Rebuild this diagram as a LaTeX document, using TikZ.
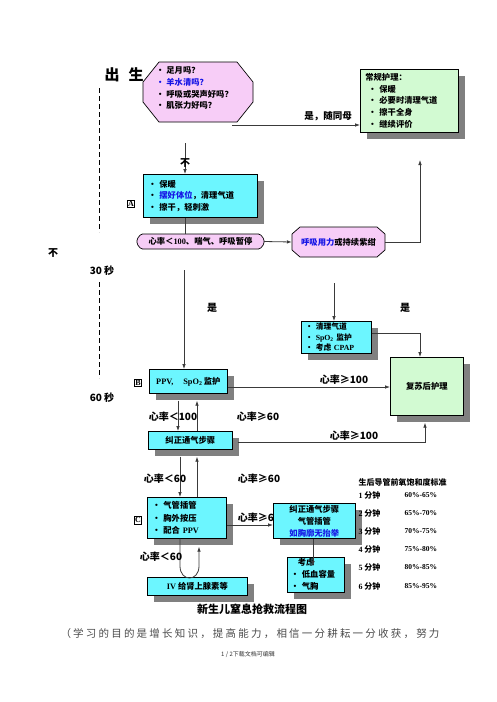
\documentclass[tikz,border=0pt]{standalone}
\usepackage{fontspec}
\setmainfont{Noto Sans CJK SC}
\newfontfamily\tms{Liberation Serif}
\newfontfamily\spaced{Noto Sans CJK SC}[LetterSpace=21]
\usetikzlibrary{shadows,arrows.meta}
\definecolor{pinkf}{HTML}{F7CDF7}
\definecolor{cyanf}{HTML}{6CF6FF}
\definecolor{greenf}{HTML}{D2FAD2}
\definecolor{shad}{HTML}{808080}
\definecolor{bluet}{HTML}{1515E6}
\definecolor{linec}{HTML}{3A3A3A}
\newcommand{\fs}{\bfseries\fontsize{8.3}{11.6}\selectfont}
\newcommand{\lb}{\bfseries\fontsize{10}{12}\selectfont}
\begin{document}
\begin{tikzpicture}[x=1pt,y=-1pt,
  sbox/.style={draw=black, line width=0.7pt, inner ysep=0pt, inner xsep=5pt, anchor=north west, font=\fs,
    drop shadow={shadow xshift=7pt, shadow yshift=-7pt, fill=shad, opacity=1}},
  conn/.style={draw=linec, line width=0.8pt},
  arr/.style={conn, -{Latex[length=5pt,width=3.6pt]}},
  lab/.style={font=\lb},
  tag/.style={draw=black, line width=0.7pt, inner xsep=0.8pt, inner ysep=1.2pt, font=\bfseries\fontsize{8}{8}\selectfont\tms}]
\fill[white] (0,0) rectangle (496,702);
\useasboundingbox (0,0) rectangle (496,702);

% left timeline
\node[font=\bfseries\fontsize{15}{15}\selectfont] (birth) at (124,75) {出\hspace{9pt}生};
\draw[dashed, dash pattern=on 5pt off 3pt, line width=0.8pt] (99,88) -- (99,232);
\node[lab] (no0) at (53,253) {不};
\node[lab] (s30) at (102,271) {30 秒};
\draw[dashed, dash pattern=on 5pt off 3pt, line width=0.8pt] (99,282) -- (99,378);
\node[lab] (s60) at (102,398) {60 秒};

% octagon 1
\filldraw[fill=pinkf, draw=black, line width=0.7pt] (159,62) -- (237,62) -- (253,82) -- (253,102) -- (237,122) -- (159,122) -- (143,102) -- (143,82) -- cycle;
\node[anchor=north west, inner sep=0pt, font=\fs, align=left] (oct1) at (156,67)
  {• 足月吗？\\\textcolor{bluet}{• 羊水清吗？}\\• 呼吸或哭声好吗？\\• 肌张力好吗？};

% green box 1
\node[sbox, fill=greenf, minimum width=98, minimum height=63, text width=88, align=left] (green1) at (360,69)
  {常规护理：\\\hspace*{3pt}• 保暖\\\hspace*{3pt}• 必要时清理气道\\\hspace*{3pt}• 擦干全身\\\hspace*{3pt}• 继续评价};

% box A
\node[tag] (tagA) at (131,204) {A};
\node[sbox, fill=cyanf, minimum width=114, minimum height=43, text width=104, align=left] (boxA) at (143,174)
  {• 保暖\\• \textcolor{bluet}{摆好体位}，清理气道\\• 擦干，轻刺激};

% pink rounded
\filldraw[fill=pinkf, draw=black, line width=0.7pt, rounded corners=1.5pt] (141,234) -- (260,234) -- (264,239) -- (264,244) -- (260,249) -- (141,249) -- (137,244) -- (137,239) -- cycle;
\node[font=\fs, minimum width=127, minimum height=15, inner sep=0pt] (pinkA) at (200.5,241.5) {心率＜{\tms 100}、喘气、呼吸暂停};

% octagon 2
\filldraw[fill=pinkf, draw=black, line width=0.7pt] (300,227) -- (377,227) -- (385,234) -- (385,250) -- (377,257) -- (300,257) -- (292,250) -- (292,234) -- cycle;
\node[font=\fs, minimum width=93, minimum height=30, inner sep=0pt] (oct2) at (338.5,242) {\textcolor{bluet}{呼吸用力}或持续紫绀};

% CPAP box
\node[sbox, fill=cyanf, minimum width=70, minimum height=32, text width=62, inner xsep=4pt, align=left, font=\bfseries\fontsize{7.8}{10.6}\selectfont] (boxCPAP) at (301,321)
  {• 清理气道\\• {\tms SpO\textsubscript{2}} 监护\\• 考虑 {\tms CPAP}};

% green box 2
\node[sbox, fill=greenf, minimum width=73, minimum height=58] (green2) at (390,357) {复苏后护理};

% box B
\node[tag] (tagB) at (138,383) {B};
\node[sbox, fill=cyanf, minimum width=78, minimum height=24] (boxB) at (149,369) {{\tms PPV,}\hspace{10pt}{\tms SpO\textsubscript{2}}\,监护};

% correction box
\node[sbox, fill=cyanf, minimum width=84, minimum height=18] (boxCorr) at (148,431) {纠正通气步骤};

% box C
\node[tag] (tagC) at (138,520) {C};
\node[sbox, fill=cyanf, minimum width=79, minimum height=41, text width=69, align=left, font=\bfseries\fontsize{8.3}{12.6}\selectfont] (boxC) at (147,497)
  {• 气管插管\\• 胸外按压\\• 配合 {\tms PPV}};

% label partly hidden by the next box
\node[lab] (l60c) at (259,518) {心率≥60};

% intubation box
\node[sbox, fill=cyanf, minimum width=82, minimum height=35, align=center, font=\bfseries\fontsize{8.3}{12}\selectfont] (boxInt) at (273,503)
  {纠正通气步骤\\气管插管\\\textcolor{bluet}{如胸廓无抬举}};

% consider box
\node[sbox, fill=cyanf, minimum width=57, minimum height=35, text width=50, inner xsep=3.5pt, align=left, font=\bfseries\fontsize{8.3}{12}\selectfont] (boxCons) at (287,557)
  {\hspace*{7pt}考虑\\• 低血容量\\• 气胸};

% IV box
\node[sbox, fill=cyanf, minimum width=100, minimum height=18] (boxIV) at (147,577) {{\tms IV} 给肾上腺素等};

% ---- connectors ----
\coordinate (c1) at (232,125);
\draw[arr] (c1) -- (c1 -| green1.west);
\node[font=\bfseries\fontsize{9.5}{10}\selectfont] (lyes1) at (328,116) {是，随同母};

\coordinate (c2) at (185,143);
\draw[arr] (c2) -- (c2 |- boxA.north);
\node[lab] (lno1) at (185,163) {不};
\draw[conn] (boxA.south -| c2) -- (c2 |- pinkA.north);

\draw[arr] (pinkA.east) -- (oct2.west);
\coordinate (c3) at (420,160);
\draw[arr] (oct2.east) -| (c3);

\coordinate (c4) at (184,270);
\draw[arr] (c4) -- (c4 |- boxB.north);
\node[lab] (lyes2) at (212,308) {是};

\coordinate (c5) at (334,283);
\draw[arr] (c5) -- (c5 |- boxCPAP.north);
\coordinate (c6) at (420,333);
\draw[arr] (boxCPAP.east |- c6) -- (c6) -- (c6 |- green2.north);
\node[lab] (lyes3) at (405,308) {是};

\coordinate (c7) at (0,387);
\draw[arr] (boxB.east |- c7) -- (green2.west |- c7);
\node[lab] (l100a) at (344,380) {心率≥100};

\coordinate (x178) at (178,0);
\coordinate (x197) at (197,0);
\coordinate (bBs) at ([yshift=-7pt]boxB.south);
\coordinate (bCorrS) at ([yshift=-7pt]boxCorr.south);
\draw[arr] (bBs -| x178) -- (boxCorr.north -| x178);
\draw[arr] (boxCorr.north -| x197) -- (bBs -| x197);
\node[lab] (l100b) at (173,417) {心率＜100};
\node[lab] (l60a) at (258,417) {心率≥60};

\coordinate (c8) at (425,442);
\coordinate (g2b) at ([yshift=-7pt]green2.south);
\draw[arr] ([xshift=5pt]boxCorr.east |- c8) -- (c8) -- (c8 |- g2b);
\node[lab] (l100c) at (354,436) {心率≥100};

\coordinate (x180) at (180,0);
\draw[arr] (bCorrS -| x180) -- (boxC.north -| x180);
\draw[arr] (boxC.north -| x197) -- (bCorrS -| x197);
\node[lab] (l60b) at (165,479) {心率＜60};
\node[lab] (l60d) at (259,479) {心率≥60};

\coordinate (c9) at (0,525);
\draw[arr] (boxC.east |- c9) -- (boxInt.west |- c9);

\coordinate (x313) at (313,0);
\coordinate (consIn) at ([yshift=-9pt]boxCons.north);
\draw[arr] (boxInt.south -| x313) -- (consIn -| x313);

\coordinate (u1) at (180,566);
\coordinate (u2) at (199,566);
\coordinate (bCs) at ([yshift=-8pt]boxC.south);
\draw[arr] (boxC.south -| u1) -- (u1) .. controls (180,582) and (199,582) .. (u2) -- (u2 |- bCs);
\node[lab] (l60e) at (161,557) {心率＜60};

% ---- table ----
\node[anchor=west, font=\bfseries\fontsize{8}{10}\selectfont] (thead) at (355,482) {生后导管前氧饱和度标准};
\foreach \n/\v/\yy in {1/60\%-65\%/495, 2/65\%-70\%/513, 3/70\%-75\%/531, 4/75\%-80\%/549, 5/80\%-85\%/567, 6/85\%-95\%/586}{
  \node[anchor=west, font=\bfseries\fontsize{8}{10}\selectfont] (tr\n) at (355,\yy) {{\tms \n} 分钟};
  \node[anchor=west, font=\bfseries\fontsize{7.5}{10}\selectfont\tms] (tv\n) at (401,\yy) {\v};
}

% ---- captions ----
\node[font=\bfseries\fontsize{11}{12}\selectfont] (title) at (252,609) {新生儿窒息抢救流程图};
\node[font=\spaced\fontsize{10.5}{12}\selectfont, text=black!70] (note) at (250,634) {（学习的目的是增长知识，提高能力，相信一分耕耘一分收获，努力};
\node[font=\fontsize{6}{7}\selectfont, text=black!80] (page) at (248,654) {1 / 2下载文档可编辑};
\end{tikzpicture}
\end{document}
